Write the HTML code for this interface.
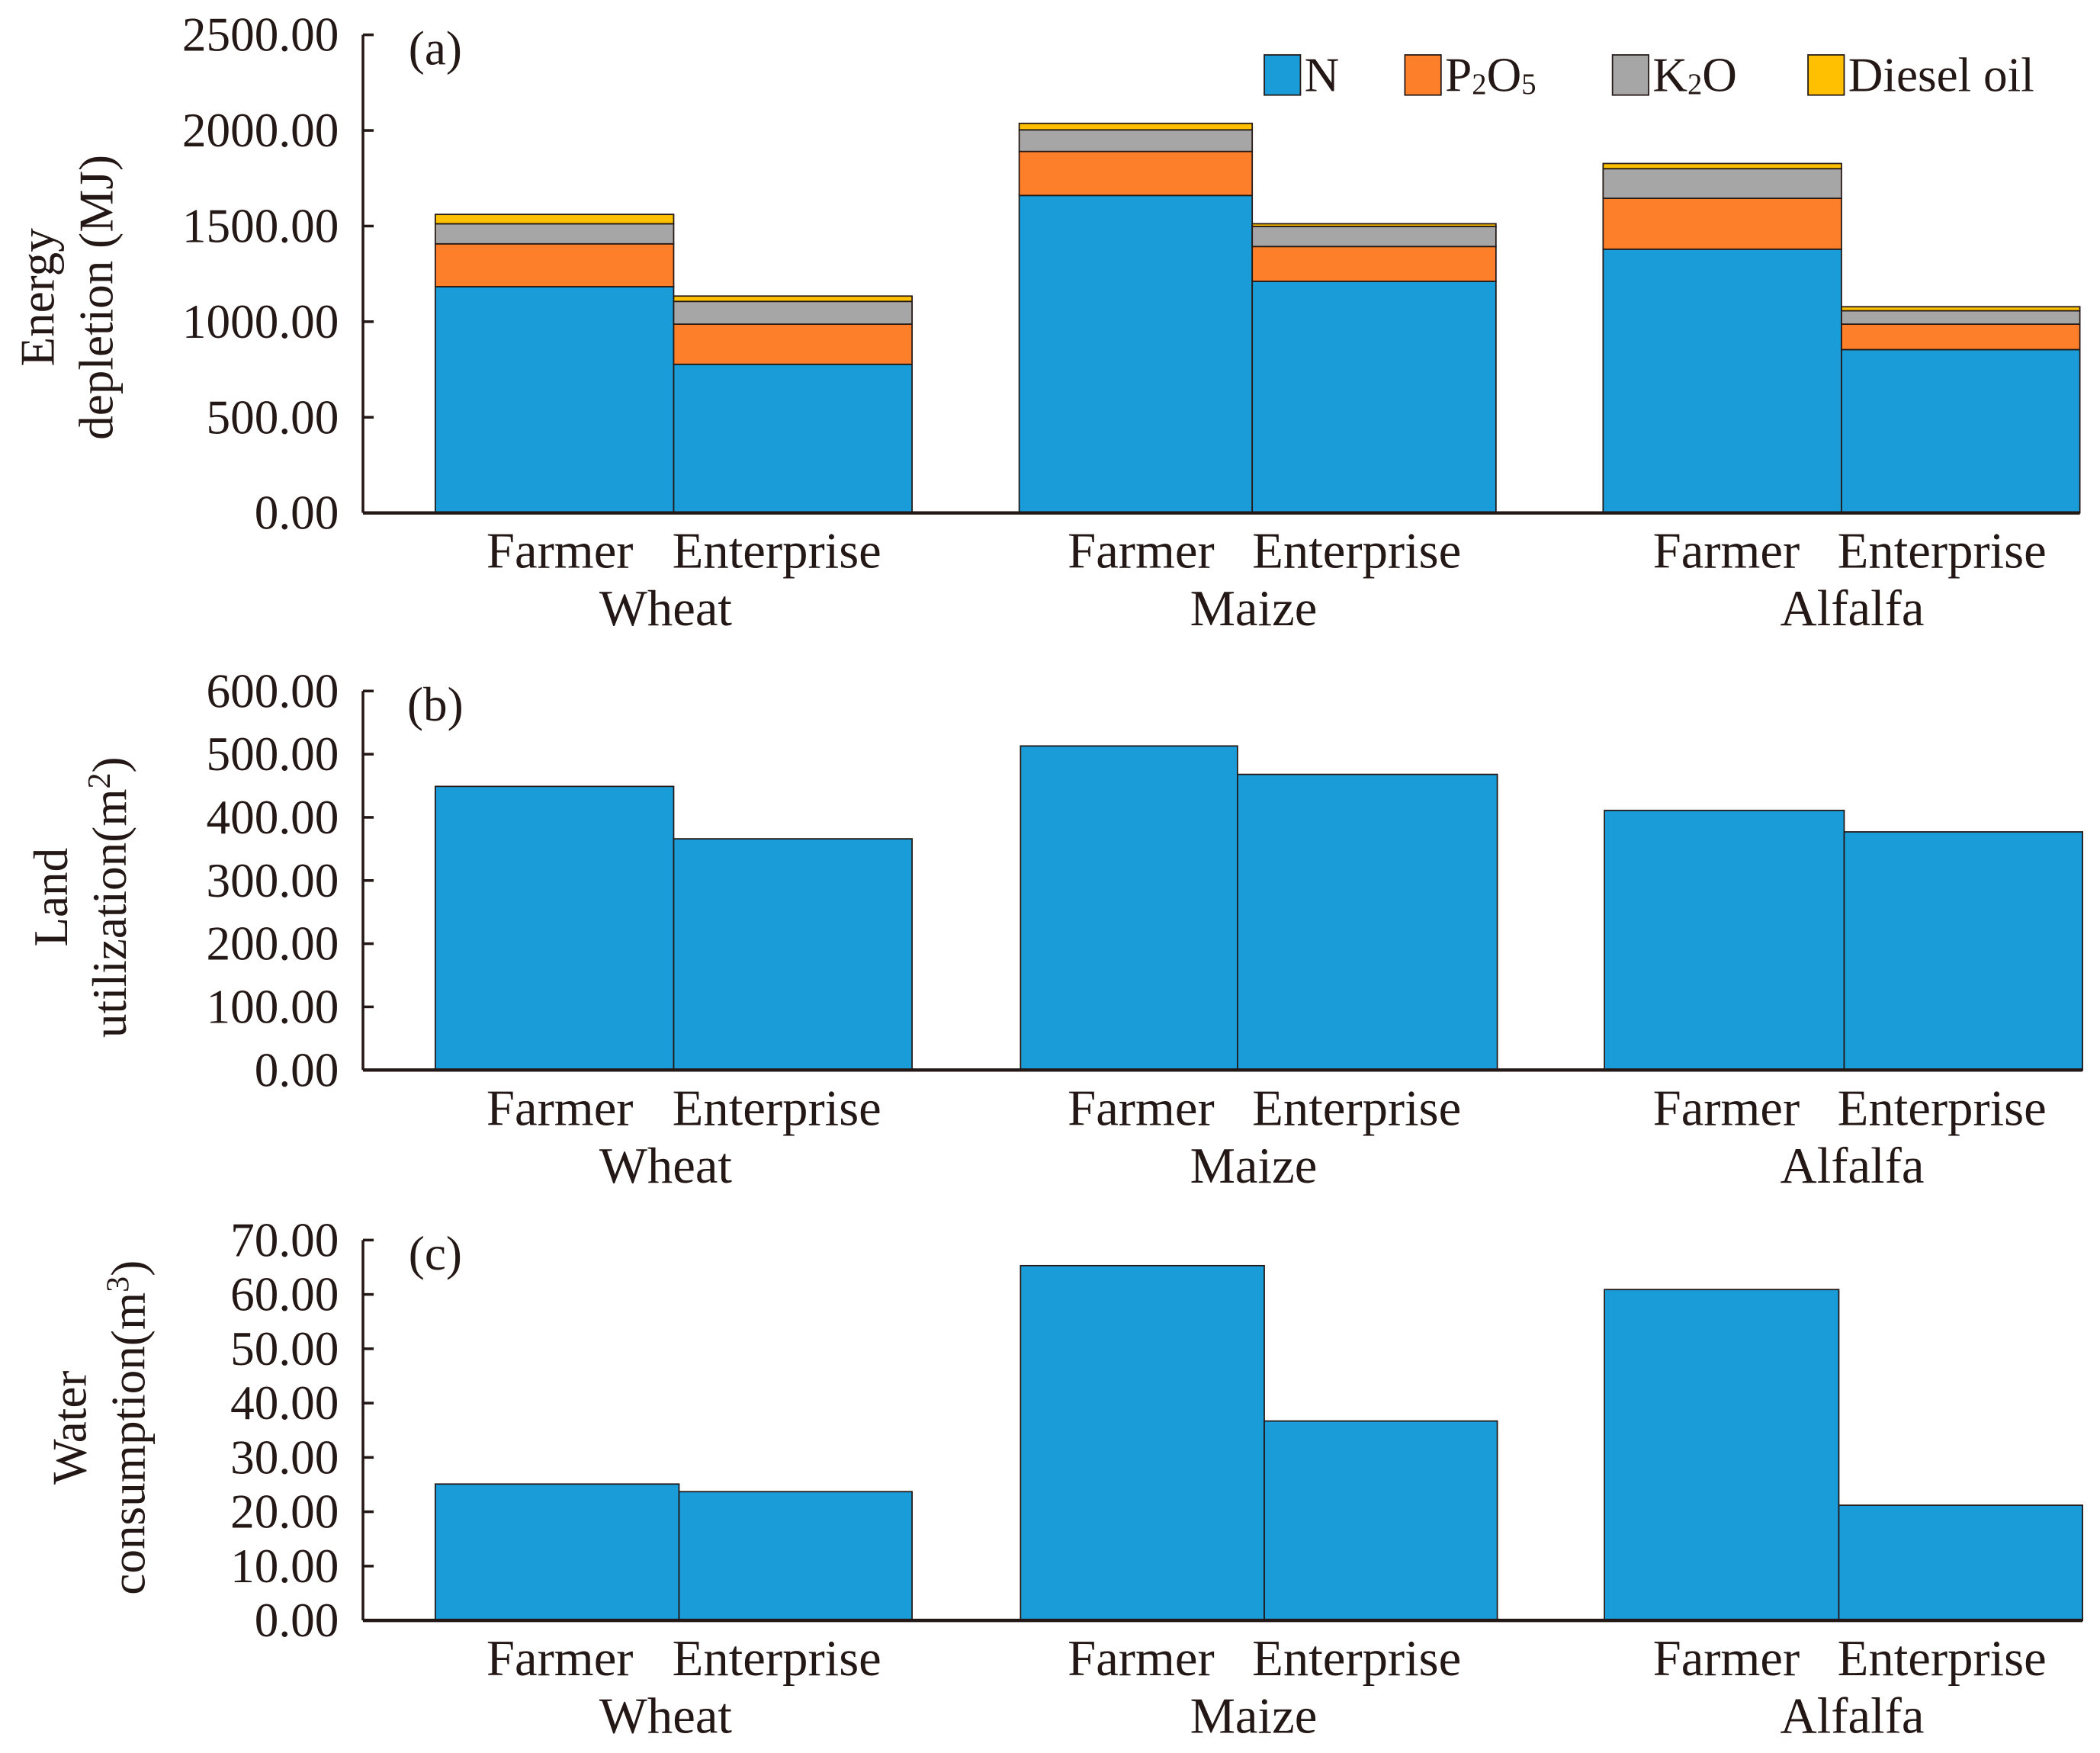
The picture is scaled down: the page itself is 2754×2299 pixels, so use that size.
<!DOCTYPE html>
<html><head><meta charset="utf-8">
<style>
html,body{margin:0;padding:0;background:#fff;}
svg{display:block;}
text{font-family:"Liberation Serif",serif;fill:#231815;}
</style></head>
<body>
<svg id="chart" width="2754" height="2299" viewBox="0 0 1568 1309" xmlns="http://www.w3.org/2000/svg"></svg>
<script>
// ---- data ----
const crops = ["Wheat", "Maize", "Alfalfa"];
const producers = ["Farmer", "Enterprise"];
const seriesNames = ["N", "P2O5", "K2O", "Diesel oil"];
// panel (a) energy depletion (MJ), order: WF, WE, MF, ME, AF, AE
const energyN = [1183, 777, 1660, 1211, 1379, 854];
const energyP = [224, 210, 230, 182, 266, 133];
const energyK = [105, 119, 113, 105, 155, 70];
const energyDiesel = [49, 28, 34, 14, 27, 21];
const energyTicks = [0, 500, 1000, 1500, 2000, 2500];
// panel (b) land utilization (m2)
const landValues = [449, 366, 513, 468, 411, 377];
const landTicks = [0, 100, 200, 300, 400, 500, 600];
// panel (c) water consumption (m3)
const waterValues = [25.1, 23.7, 65.3, 36.7, 60.9, 21.2];
const waterTicks = [0, 10, 20, 30, 40, 50, 60, 70];

const NS = "http://www.w3.org/2000/svg";
const svg = document.getElementById("chart");
const colors = ["#1a9cd8", "#fe7f2a", "#a6a6a6", "#fec000"];
function mk(tag, attrs, parent) {
  const e = document.createElementNS(NS, tag);
  for (const k in attrs) e.setAttribute(k, attrs[k]);
  (parent || svg).appendChild(e);
  return e;
}
function txt(str, x, y, size, anchor, parent) {
  const t = mk("text", {x: x, y: y, "font-size": size, "text-anchor": anchor || "middle"}, parent);
  t.textContent = str;
  return t;
}

function panel(cfg) {
  const g = mk("g", {});
  
  
  const yScale = v => cfg.y0 - (v - cfg.min) / (cfg.max - cfg.min) * (cfg.y0 - cfg.yTop);
  cfg.series.forEach((arr, si) => {
    arr.forEach((v, i) => {
      let base = 0;
      for (let k = 0; k < si; k++) base += cfg.series[k][i];
      const x0 = cfg.edges[i][0], x1 = cfg.edges[i][1];
      const r = mk("rect", {x: x0, y: yScale(base + v), width: x1 - x0, height: yScale(base) - yScale(base + v),
        fill: colors[si], stroke: "#231815", "stroke-width": 1}, g);
      
      
    });
  });
  const ya = mk("line", {x1: cfg.axX, x2: cfg.axX, y1: cfg.yTop, y2: cfg.y0, stroke: "#231815", "stroke-width": 2}, g);
  
  
  const xa = mk("line", {x1: cfg.axX, x2: cfg.axEnd, y1: cfg.y0, y2: cfg.y0, stroke: "#231815", "stroke-width": 2.5}, g);
  
  
  cfg.ticks.forEach(tv => {
    const y = yScale(tv);
    mk("line", {x1: cfg.axX, x2: cfg.axX + 8, y1: y, y2: y, stroke: "#231815", "stroke-width": 2}, g);
    const t = txt(tv.toFixed(2), 253, y + 12, 36, "end", g);
    
    
  });
  crops.forEach((c, ci) => {
    producers.forEach((p, pi) => {
      const cx = cfg.labelX[ci][pi];
      const t = txt(p, cx, cfg.y0 + 41, 38, "middle", g);
      
      
    });
    const t = txt(c, cfg.cropX[ci], cfg.y0 + 84, 38, "middle", g);
    
    
  });
  const pl = txt(cfg.tag, 325, cfg.yTop + 22, 36, "middle", g);
  
  
  const tg = mk("g", {transform: "translate(" + cfg.titleX + "," + cfg.titleY + ") rotate(-90)"}, g);
  
  
  const t1 = mk("text", {x: 0, y: 0, "font-size": 36, "text-anchor": "middle"}, tg);
  t1.innerHTML = cfg.title1;
  const t2 = mk("text", {x: 0, y: 44, "font-size": 36, "text-anchor": "middle"}, tg);
  t2.innerHTML = cfg.title2;
}

const labelX = [[418, 580], [852, 1013], [1289, 1450]];
const cropX = [497, 936, 1383];

panel({name: "panel-a-energy", tag: "(a)", y0: 383, yTop: 26, min: 0, max: 2500, ticks: energyTicks,
  series: [energyN, energyP, energyK, energyDiesel], axX: 271, axEnd: 1553,
  edges: [[325, 503], [503, 681], [761, 935], [935, 1117], [1197, 1375], [1375, 1553]],
  labelX: labelX, cropX: cropX, titleX: 40, titleY: 222, title1: "Energy", title2: "depletion (MJ)"});
panel({name: "panel-b-land", tag: "(b)", y0: 799, yTop: 516, min: 0, max: 600, ticks: landTicks,
  series: [landValues], axX: 271, axEnd: 1555,
  edges: [[325, 503], [503, 681], [762, 924], [924, 1118], [1198, 1377], [1377, 1555]],
  labelX: labelX, cropX: cropX, titleX: 50, titleY: 670, title1: "Land", title2: "utilization(m<tspan dy='-12' font-size='24'>2</tspan><tspan dy='12'>)</tspan>"});
panel({name: "panel-c-water", tag: "(c)", y0: 1210, yTop: 926, min: 0, max: 70, ticks: waterTicks,
  series: [waterValues], axX: 271, axEnd: 1555,
  edges: [[325, 507], [507, 681], [762, 944], [944, 1118], [1198, 1373], [1373, 1555]],
  labelX: labelX, cropX: cropX, titleX: 64, titleY: 1066, title1: "Water", title2: "consumption(m<tspan dy='-12' font-size='24'>3</tspan><tspan dy='12'>)</tspan>"});

const legend = mk("g", {});


const legX = [944, 1049, 1204, 1350];
const legLabels = ["N", "P<tspan font-size='22' dy='2'>2</tspan><tspan dy='-2'>O</tspan><tspan font-size='22' dy='2'>5</tspan>", "K<tspan font-size='22' dy='2'>2</tspan><tspan dy='-2'>O</tspan>", "Diesel oil"];
legLabels.forEach((l, i) => {
  const sw = mk("rect", {x: legX[i], y: 41, width: 27, height: 30, fill: colors[i], stroke: "#231815", "stroke-width": 1}, legend);
  
  
  const t = mk("text", {x: legX[i] + 30, y: 68, "font-size": 36}, legend);
  t.innerHTML = l;
  
  
});
</script>
</body></html>
